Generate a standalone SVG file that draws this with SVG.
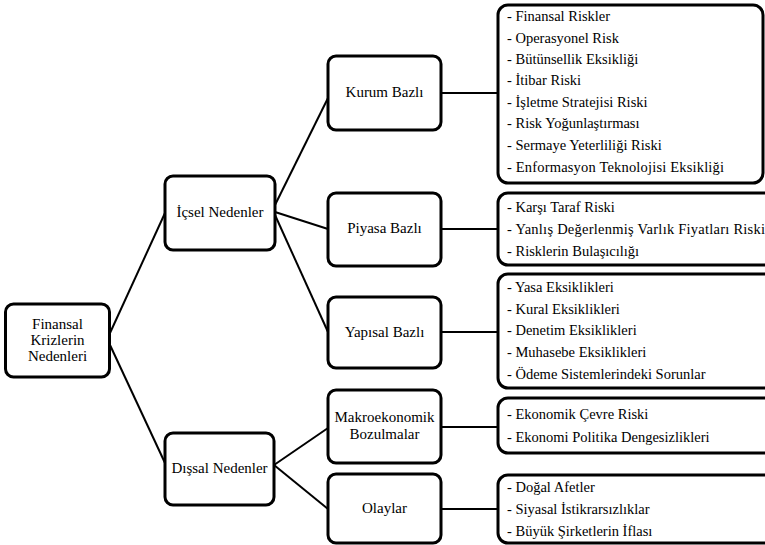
<svg xmlns="http://www.w3.org/2000/svg" width="765" height="545" viewBox="0 0 765 545">
<style>
.box{fill:#fff;stroke:#000;stroke-width:3}
.lst{fill:#fff;stroke:#000;stroke-width:3}
.lbl{font-family:"Liberation Serif",Tinos,"Times New Roman","DejaVu Serif",serif;font-size:15px;fill:#000;text-anchor:middle}
.itm{font-family:"Liberation Serif",Tinos,"Times New Roman","DejaVu Serif",serif;font-size:14.5px;fill:#000}
.con line{stroke:#000;stroke-width:2}
</style>
<rect width="765" height="545" fill="#fff"/>
<g class="con" id="connectors">
<line x1="110" y1="333" x2="165" y2="213"/>
<line x1="110" y1="345" x2="165" y2="463"/>
<line x1="275" y1="205" x2="328" y2="98"/>
<line x1="275" y1="212" x2="328" y2="229"/>
<line x1="275" y1="215" x2="328" y2="332"/>
<line x1="274" y1="465" x2="328" y2="428"/>
<line x1="274" y1="465" x2="328" y2="509"/>
<line x1="441" y1="93" x2="498" y2="93"/>
<line x1="441" y1="229" x2="498" y2="229"/>
<line x1="441" y1="332" x2="498" y2="332"/>
<line x1="441" y1="427" x2="498" y2="427"/>
<line x1="441" y1="509" x2="498" y2="509"/>
</g>
<g id="root">
<rect class="box" x="5.5" y="304" width="104" height="73" rx="8"/>
<text class="lbl" x="57.5" y="329">Finansal</text>
<text class="lbl" x="57.5" y="345">Krizlerin</text>
<text class="lbl" x="57.5" y="361">Nedenleri</text>
</g>
<g id="icsel">
<rect class="box" x="165" y="176" width="110" height="74" rx="8"/>
<text class="lbl" x="220" y="217">İçsel Nedenler</text>
</g>
<g id="dissal">
<rect class="box" x="165" y="433" width="109" height="72" rx="8"/>
<text class="lbl" x="219.5" y="473">Dışsal Nedenler</text>
</g>
<g id="kurum">
<rect class="box" x="328" y="56" width="113" height="74" rx="8"/>
<text class="lbl" x="384.5" y="97">Kurum Bazlı</text>
</g>
<g id="piyasa">
<rect class="box" x="328" y="193" width="113" height="73" rx="8"/>
<text class="lbl" x="384.5" y="233">Piyasa Bazlı</text>
</g>
<g id="yapisal">
<rect class="box" x="328" y="297" width="113" height="71" rx="8"/>
<text class="lbl" x="384.5" y="337">Yapısal Bazlı</text>
</g>
<g id="makro">
<rect class="box" x="328" y="390" width="113" height="73" rx="8"/>
<text class="lbl" x="384.5" y="422">Makroekonomik</text>
<text class="lbl" x="384.5" y="439">Bozulmalar</text>
</g>
<g id="olaylar">
<rect class="box" x="328" y="474" width="113" height="69" rx="8"/>
<text class="lbl" x="384.5" y="513">Olaylar</text>
</g>
<g id="kurum-list">
<rect class="lst" x="498" y="5" width="265" height="178" rx="10"/>
<text class="itm" x="507" y="21">- Finansal Riskler</text>
<text class="itm" x="507" y="43">- Operasyonel Risk</text>
<text class="itm" x="507" y="64">- Bütünsellik Eksikliği</text>
<text class="itm" x="507" y="85">- İtibar Riski</text>
<text class="itm" x="507" y="107">- İşletme Stratejisi Riski</text>
<text class="itm" x="507" y="128">- Risk Yoğunlaştırması</text>
<text class="itm" x="507" y="150">- Sermaye Yeterliliği Riski</text>
<text class="itm" x="507" y="172" textLength="217">- Enformasyon Teknolojisi Eksikliği</text>
</g>
<g id="piyasa-list">
<rect class="lst" x="498" y="193" width="290" height="72" rx="10"/>
<text class="itm" x="507" y="212">- Karşı Taraf Riski</text>
<text class="itm" x="507" y="234" textLength="258">- Yanlış Değerlenmiş Varlık Fiyatları Riski</text>
<text class="itm" x="507" y="256">- Risklerin Bulaşıcılığı</text>
</g>
<g id="yapisal-list">
<rect class="lst" x="498" y="274" width="290" height="114" rx="10"/>
<text class="itm" x="507" y="292">- Yasa Eksiklikleri</text>
<text class="itm" x="507" y="314">- Kural Eksiklikleri</text>
<text class="itm" x="507" y="335">- Denetim Eksiklikleri</text>
<text class="itm" x="507" y="357">- Muhasebe Eksiklikleri</text>
<text class="itm" x="507" y="379">- Ödeme Sistemlerindeki Sorunlar</text>
</g>
<g id="makro-list">
<rect class="lst" x="498" y="398" width="290" height="55" rx="10"/>
<text class="itm" x="507" y="419">- Ekonomik Çevre Riski</text>
<text class="itm" x="507" y="442">- Ekonomi Politika Dengesizlikleri</text>
</g>
<g id="olaylar-list">
<rect class="lst" x="498" y="475" width="290" height="68" rx="10"/>
<text class="itm" x="507" y="492">- Doğal Afetler</text>
<text class="itm" x="507" y="514">- Siyasal İstikrarsızlıklar</text>
<text class="itm" x="507" y="536">- Büyük Şirketlerin İflası</text>
</g>
</svg>
